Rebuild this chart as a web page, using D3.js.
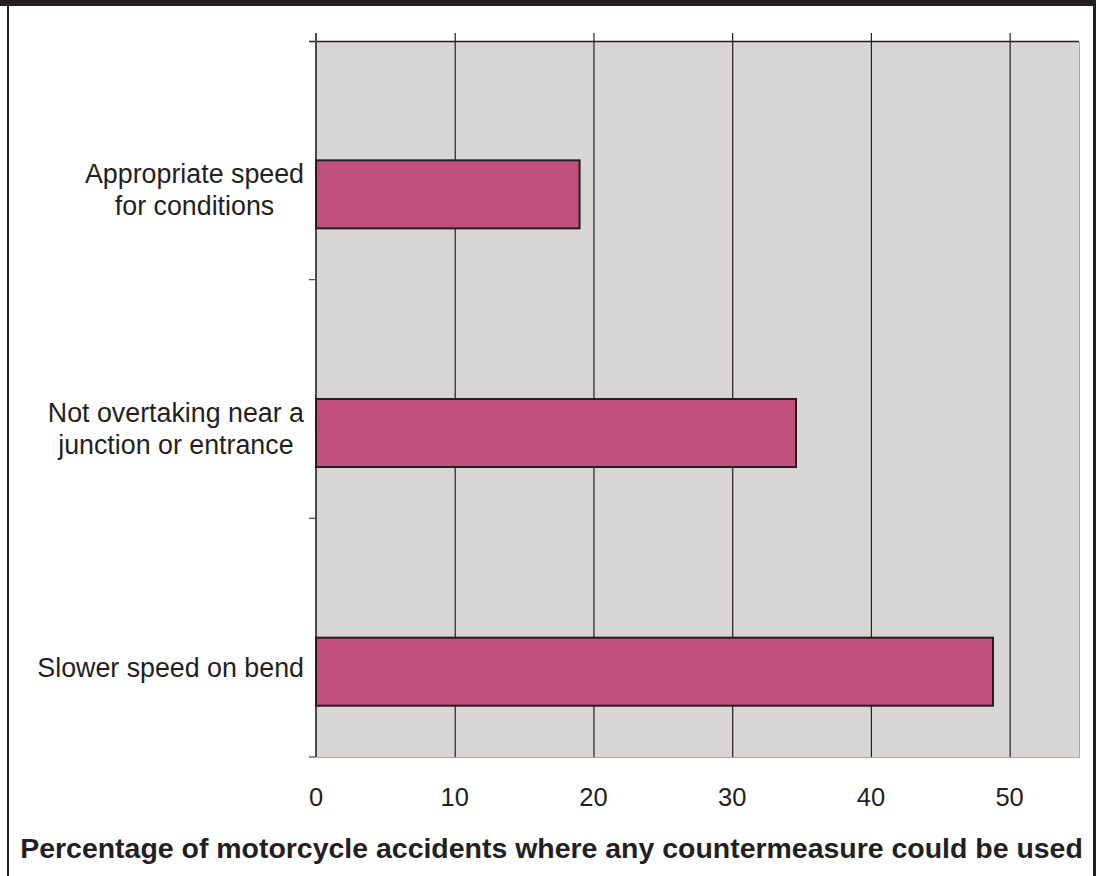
<!DOCTYPE html>
<html><head><meta charset="utf-8">
<script src="https://cdn.jsdelivr.net/npm/d3@7"></script>
<style>body{margin:0;background:#fff;}svg{display:block;font-family:"Liberation Sans",Arial,sans-serif;}</style>
</head><body><svg id="c" width="1096" height="876"></svg>
<script>
const categories = ["Appropriate speed\nfor conditions", "Not overtaking near a\njunction or entrance", "Slower speed on bend"];
const values = [19.0, 34.6, 48.8];
const xTicks = [0, 10, 20, 30, 40, 50];
const xTitle = "Percentage of motorcycle accidents where any countermeasure could be used";

const svg = d3.select("#c");
const ink = "#231f20";
const L = 316, R = 1079, T = 41, B = 757;

// frame
svg.append("rect").attr("x",0).attr("y",0).attr("width",1096).attr("height",6).attr("fill",ink);
svg.append("rect").attr("x",7).attr("y",0).attr("width",2).attr("height",876).attr("fill",ink);
svg.append("rect").attr("x",1093).attr("y",0).attr("width",3).attr("height",876).attr("fill",ink);

const x = d3.scaleLinear().domain([0,55]).range([L,R]);
const y = d3.scaleBand().domain(categories).range([T,B]).paddingInner(0).paddingOuter(0);

// plot background with shadow
svg.append("rect").attr("x",L+1).attr("y",T+1).attr("width",R-L).attr("height",B-T).attr("fill","#a8a7a6");
svg.append("rect").attr("x",L).attr("y",T).attr("width",R-L).attr("height",B-T).attr("fill","#d7d6d5");

// gridlines
svg.append("g").selectAll("line").data(xTicks.filter(d=>d>0)).join("line")
  .attr("x1",d=>x(d)+0.5).attr("x2",d=>x(d)+0.5).attr("y1",T-8).attr("y2",B)
  .attr("stroke",ink).attr("stroke-width",1.2);
// top line
svg.append("line").attr("x1",L-7).attr("x2",R).attr("y1",T+0.5).attr("y2",T+0.5).attr("stroke",ink).attr("stroke-width",1.5);
// left axis
svg.append("line").attr("x1",L).attr("x2",L).attr("y1",T-8).attr("y2",B).attr("stroke","#4a4a4a").attr("stroke-width",2);
// left ticks at band boundaries
const bounds = categories.map(c=>y(c)).concat([B]);
svg.append("g").selectAll("line").data(bounds.slice(1)).join("line")
  .attr("x1",L-7).attr("x2",L).attr("y1",d=>d).attr("y2",d=>d).attr("stroke","#4a4a4a").attr("stroke-width",1.2);

// bars
const bh = y.bandwidth()*0.285;
svg.append("g").selectAll("rect").data(categories).join("rect")
  .attr("x",x(0)).attr("y",d=>y(d)+y.bandwidth()/2)
  .attr("width",(d,i)=>x(values[i])-x(0)).attr("height",bh)
  .attr("fill","#c04f7c").attr("stroke",ink).attr("stroke-width",2);

// category labels
categories.forEach(c=>{
  const lines = c.split("\n");
  const cy = y(c)+y.bandwidth()/2+bh/2;
  const g = svg.append("g");
  const t = g.append("text").attr("font-size",26.8).attr("fill",ink).attr("text-anchor","middle");
  lines.forEach((ln,i)=>{
    t.append("tspan").attr("x",0).attr("y",cy + (i-(lines.length-1)/2)*32 + 5).text(ln);
  });
  const w = d3.max(t.selectAll("tspan").nodes(), n=>n.getComputedTextLength());
  t.attr("transform",`translate(${304 - w/2},0)`);
});

// x tick labels
svg.append("g").selectAll("text").data(xTicks).join("text")
  .attr("x",d=>x(d)).attr("y",806).attr("text-anchor","middle")
  .attr("font-size",25.5).attr("fill",ink).text(d=>d);

// title
const tt = svg.append("text").attr("x",551.5).attr("y",858).attr("text-anchor","middle")
  .attr("font-size",25).attr("font-weight","bold").attr("fill",ink).text(xTitle);
const tw = tt.node().getComputedTextLength();
tt.attr("font-size", 25*1063/tw);
</script></body></html>
